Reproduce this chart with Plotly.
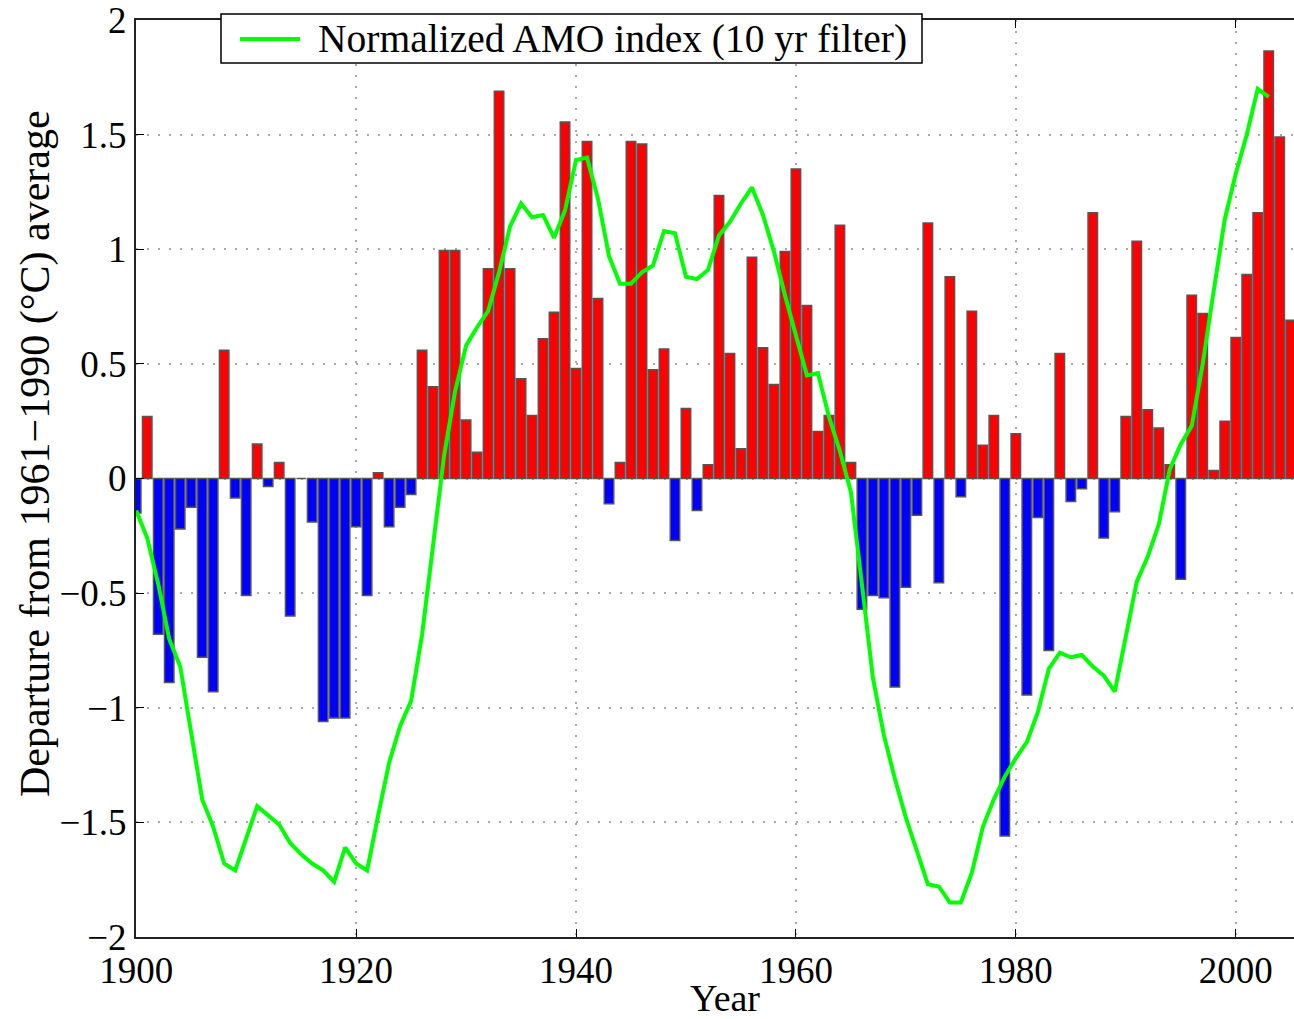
import plotly.graph_objects as go

# ---- data ----
bar_years = list(range(1900, 2006))
bar_values = [
    -0.15, 0.27, -0.68, -0.89, -0.22, -0.125, -0.78, -0.93, 0.56, -0.085,
    -0.51, 0.15, -0.035, 0.07, -0.60, 0.0, -0.19, -1.06, -1.045, -1.045,
    -0.21, -0.51, 0.025, -0.21, -0.125, -0.07, 0.56, 0.40, 0.995, 0.995,
    0.255, 0.115, 0.915, 1.69, 0.915, 0.435, 0.275, 0.61, 0.725, 1.555,
    0.48, 1.47, 0.785, -0.11, 0.07, 1.47, 1.46, 0.475, 0.565, -0.27,
    0.305, -0.14, 0.06, 1.235, 0.545, 0.13, 0.965, 0.57, 0.41, 0.99,
    1.35, 0.755, 0.205, 0.275, 1.105, 0.07, -0.57, -0.51, -0.52, -0.91,
    -0.475, -0.16, 1.115, -0.455, 0.88, -0.08, 0.73, 0.145, 0.275, -1.56,
    0.195, -0.945, -0.17, -0.75, 0.545, -0.10, -0.045, 1.16, -0.26, -0.145,
    0.27, 1.035, 0.30, 0.22, 0.06, -0.44, 0.80, 0.72, 0.035, 0.25,
    0.615, 0.89, 1.16, 1.865, 1.49, 0.69,
]

amo_years = list(range(1900, 2004))
amo_values = [
    -0.14, -0.26, -0.46, -0.70, -0.82, -1.12, -1.40, -1.52, -1.68, -1.71,
    -1.57, -1.43, -1.47, -1.51, -1.59, -1.64, -1.68, -1.71, -1.76, -1.61,
    -1.68, -1.71, -1.47, -1.24, -1.08, -0.97, -0.68, -0.30, 0.10, 0.38,
    0.58, 0.66, 0.73, 0.90, 1.10, 1.20, 1.14, 1.15, 1.05, 1.17,
    1.39, 1.40, 1.22, 0.97, 0.85, 0.85, 0.90, 0.93, 1.08, 1.07,
    0.88, 0.87, 0.91, 1.06, 1.12, 1.20, 1.27, 1.15, 0.99, 0.80,
    0.62, 0.45, 0.46, 0.27, 0.12, -0.06, -0.46, -0.87, -1.12, -1.31,
    -1.48, -1.62, -1.77, -1.78, -1.85, -1.85, -1.72, -1.52, -1.40, -1.30,
    -1.22, -1.15, -1.02, -0.83, -0.76, -0.78, -0.77, -0.82, -0.86, -0.93,
    -0.70, -0.45, -0.34, -0.20, 0.04, 0.15, 0.23, 0.50, 0.82, 1.13,
    1.33, 1.50, 1.70, 1.665,
]

x_ticks = [1900, 1920, 1940, 1960, 1980, 2000]
y_ticks = [-2, -1.5, -1, -0.5, 0, 0.5, 1, 1.5, 2]
y_tick_text = ["\u22122", "\u22121.5", "\u22121", "\u22120.5", "0", "0.5", "1", "1.5", "2"]

legend_label = "Normalized AMO index (10 yr filter)"
x_title = "Year"
y_title = "Departure from 1961\u22121990 (\u00b0C) average"

FONT = "Liberation Serif"
W, H = 1294, 1019
L, R, T, B = 136, 0, 20, 82
PW, PH = W - L - R, H - T - B


def px_x(px):
    return (px - L) / PW


def px_y(py):
    return (H - B - py) / PH


bar_colors = ["#ff0000" if v >= 0 else "#0000ff" for v in bar_values]

fig = go.Figure()
fig.add_trace(go.Bar(
    x=bar_years, y=bar_values,
    marker=dict(color=bar_colors, line=dict(color="#555555", width=1.5)),
    width=0.86, showlegend=False,
))
fig.add_trace(go.Scatter(
    x=amo_years, y=amo_values, mode="lines", name=legend_label,
    line=dict(color="#00ff00", width=4), showlegend=False,
))

# legend box drawn to match the reference's size
fig.add_shape(type="rect", xref="paper", yref="paper",
              x0=px_x(221), x1=px_x(922), y0=px_y(63), y1=px_y(14),
              fillcolor="white", line=dict(color="black", width=1.5), layer="above")
fig.add_shape(type="line", xref="paper", yref="paper",
              x0=px_x(240), x1=px_x(300), y0=px_y(39), y1=px_y(39),
              line=dict(color="#00ff00", width=4), layer="above")
fig.add_annotation(xref="paper", yref="paper", x=px_x(316), y=px_y(39),
                   xanchor="left", yanchor="middle", showarrow=False,
                   text=legend_label, font=dict(family=FONT, size=39.5, color="black"))

# axis titles
fig.add_annotation(xref="paper", yref="paper", x=px_x(725), y=px_y(998),
                   xanchor="center", yanchor="middle", showarrow=False,
                   text=x_title, font=dict(family=FONT, size=38, color="black"))
fig.add_annotation(xref="paper", yref="paper", x=px_x(35), y=px_y(454),
                   xanchor="center", yanchor="middle", showarrow=False, textangle=-90,
                   text=y_title, font=dict(family=FONT, size=42, color="black"))

fig.update_layout(
    width=W, height=H,
    margin=dict(l=L, r=R, t=T, b=B),
    font=dict(family=FONT, size=37, color="black"),
    plot_bgcolor="white", paper_bgcolor="white",
    showlegend=False,
)
fig.update_xaxes(
    range=[1899.98, 2005.3], tickvals=x_ticks, ticks="inside", ticklen=8,
    tickcolor="black", showline=True, linecolor="#222", linewidth=2,
    mirror="ticks", showgrid=True, gridcolor="#aaaaaa", griddash="2px,9px",
    gridwidth=1.5, zeroline=False,
)
fig.update_yaxes(
    range=[-2.0005, 2.0005], tickvals=y_ticks, ticktext=y_tick_text,
    ticks="inside", ticklen=8,
    tickcolor="black", showline=True, linecolor="#222", linewidth=2,
    mirror=False, showgrid=True, gridcolor="#aaaaaa", griddash="2px,9px",
    gridwidth=1.5, zeroline=False,
)

fig.write_html("out.html")
